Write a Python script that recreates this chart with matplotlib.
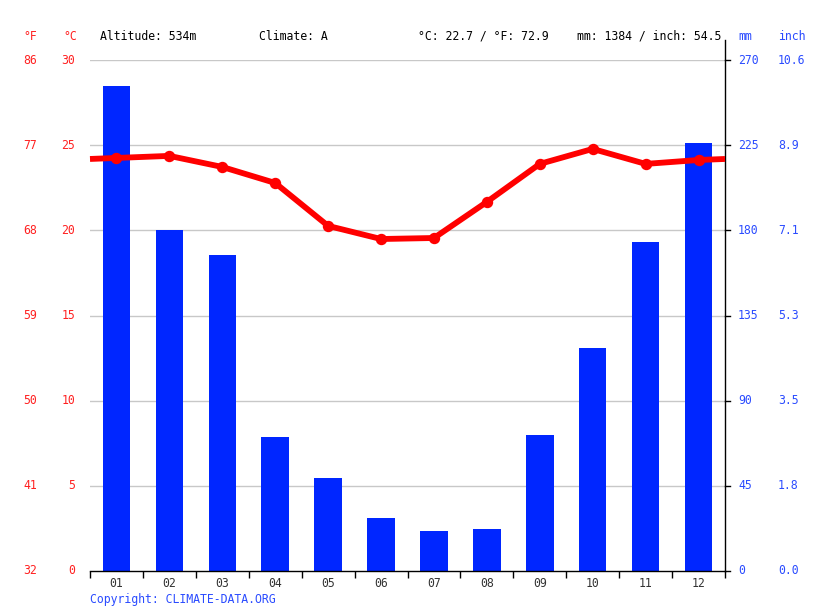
import matplotlib
matplotlib.use("Agg")
import matplotlib.pyplot as plt
import numpy as np

months = ["01", "02", "03", "04", "05", "06", "07", "08", "09", "10", "11", "12"]
precip_mm = [256, 180, 167, 71, 49, 28, 21, 22, 72, 118, 174, 226]
temp_c = [24.25, 24.37, 23.72, 22.78, 20.26, 19.49, 19.55, 21.67, 23.9, 24.78, 23.9, 24.13]
c_ticks = [0, 5, 10, 15, 20, 25, 30]
f_labels = ["32", "41", "50", "59", "68", "77", "86"]
mm_ticks = [0, 45, 90, 135, 180, 225, 270]
inch_labels = ["0.0", "1.8", "3.5", "5.3", "7.1", "8.9", "10.6"]
header_alt = "Altitude: 534m"
header_clim = "Climate: A"
header_temp = "°C: 22.7 / °F: 72.9"
header_prec = "mm: 1384 / inch: 54.5"

MONO = "DejaVu Sans Mono"
FS = 8.3
RED = "#ff2020"
BLUE = "#2a4bff"
BAR = "#0026ff"

W, H = 815, 611
fig = plt.figure(figsize=(W / 100, H / 100), dpi=100)
L, R, B, T = 90, 725, 571, 60
ax = fig.add_axes([L / W, 1 - B / H, (R - L) / W, (B - T) / H])
ax2 = ax.twinx()

n = len(months)
x = np.arange(n)
ax.set_xlim(-0.5, n - 0.5)
ax.set_ylim(0, 30)
ax2.set_ylim(0, 270)

for t in c_ticks[1:]:
    ax2.axhline(t * 9, color="#c8c8c8", lw=1, zorder=0)

ax2.bar(x, precip_mm, width=0.52, color=BAR, zorder=2)

edge = (temp_c[0] + temp_c[-1]) / 2
tx = np.concatenate([[-0.5], x, [n - 0.5]])
ty = np.concatenate([[edge], temp_c, [edge]])
ax2.set_zorder(1)
ax.set_zorder(2)
ax.patch.set_visible(False)
ax.plot(tx, ty, color="#ff0000", lw=4.2, solid_capstyle="butt", zorder=3, clip_on=False)
ax.plot(x, temp_c, "o", color="#ff0000", ms=7.2, zorder=4)

for a in (ax, ax2):
    for s in ("top", "left", "right"):
        a.spines[s].set_visible(False)
ax.spines["bottom"].set_color("black")
ax.spines["bottom"].set_linewidth(1)
ax2.spines["bottom"].set_visible(False)

ax.set_xticks(np.arange(-0.5, n, 1.0))
ax.set_xticklabels([])
ax.set_xticks(x, minor=True)
ax.set_xticklabels(months, minor=True, fontfamily=MONO, fontsize=FS, color="#333333")
ax.tick_params(axis="x", which="major", length=5, width=1, direction="out", color="black")
ax.tick_params(axis="x", which="minor", length=0, pad=4)
ax.set_yticks([])
ax2.set_yticks([])

fig.add_artist(plt.Line2D([R / W, R / W], [1 - B / H, 1 - 40 / H], color="black", lw=1))

for t, f in zip(c_ticks, f_labels):
    y = 1 - (B - (B - T) * t / 30) / H
    fig.text(75 / W, y, str(t), ha="right", va="center", color=RED, fontsize=FS, fontfamily=MONO)
    fig.text(37 / W, y, f, ha="right", va="center", color=RED, fontsize=FS, fontfamily=MONO)
for t, inch in zip(mm_ticks, inch_labels):
    y = 1 - (B - (B - T) * t / 270) / H
    fig.add_artist(plt.Line2D([R / W, (R + 5) / W], [y, y], color="black", lw=1))
    fig.text(738 / W, y, str(t), ha="left", va="center", color=BLUE, fontsize=FS, fontfamily=MONO)
    fig.text(778 / W, y, inch, ha="left", va="center", color=BLUE, fontsize=FS, fontfamily=MONO)

hy = 1 - 36 / H
fig.text(37 / W, hy, "°F", ha="right", va="center", color=RED, fontsize=FS, fontfamily=MONO)
fig.text(77 / W, hy, "°C", ha="right", va="center", color=RED, fontsize=FS, fontfamily=MONO)
fig.text(738 / W, hy, "mm", ha="left", va="center", color=BLUE, fontsize=FS, fontfamily=MONO)
fig.text(778 / W, hy, "inch", ha="left", va="center", color=BLUE, fontsize=FS, fontfamily=MONO)
fig.text(100 / W, hy, header_alt, ha="left", va="center", color="black", fontsize=FS, fontfamily=MONO)
fig.text(259 / W, hy, header_clim, ha="left", va="center", color="black", fontsize=FS, fontfamily=MONO)
fig.text(418 / W, hy, header_temp, ha="left", va="center", color="black", fontsize=FS, fontfamily=MONO)
fig.text(721 / W, hy, header_prec, ha="right", va="center", color="black", fontsize=FS, fontfamily=MONO)
fig.text(90 / W, 1 - 599 / H, "Copyright: CLIMATE-DATA.ORG", ha="left", va="center",
         color=BLUE, fontsize=FS, fontfamily=MONO)

fig.savefig("out.png", dpi=100, facecolor="white")
